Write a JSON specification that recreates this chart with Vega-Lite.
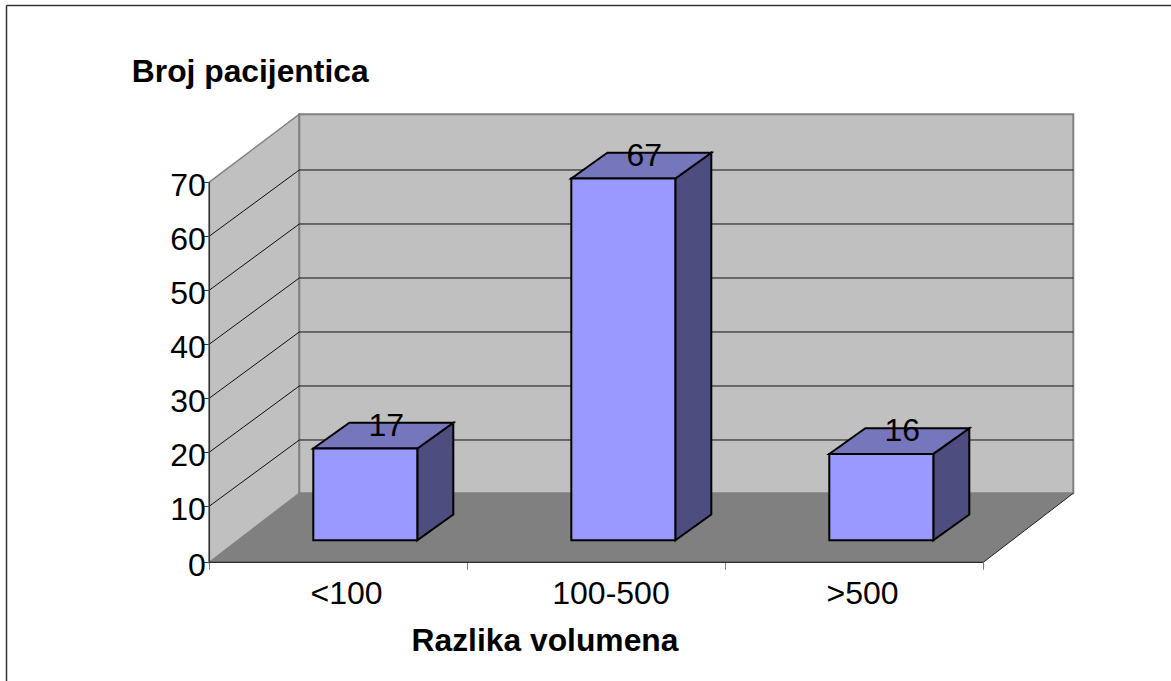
{"$schema":"https://vega.github.io/schema/vega-lite/v6.json","width":1171,"height":681,"autosize":"none","padding":0,"background":"white","view":{"stroke":null},
"config":{"font":"Liberation Sans"},
"datasets":{"bars":[{"cat":"<100","idx":0,"value":17},{"cat":"100-500","idx":1,"value":67},{"cat":">500","idx":2,"value":16}],
"depth":[{"k":0},{"k":1}],
"ticks":[{"tick":10},{"tick":20},{"tick":30},{"tick":40},{"tick":50},{"tick":60}],
"one":[{"n":1}]},
"resolve":{"axis":{"x":"independent","y":"independent"}},
"layer":[
{"data":{"name":"depth"},"transform":[{"calculate":"datum.k*0.3488","as":"x"},{"calculate":"-0.39+datum.k*12.79","as":"y0"},{"calculate":"70+datum.k*12.6","as":"y1"}],
"mark":{"type":"area","fill":"#C0C0C0","stroke":"#808080","strokeWidth":1.5},
"encoding":{"x":{"field":"x","type":"quantitative","scale":{"domain":[-0.81124,3.7275],"nice":false,"zero":false},"axis":null},"y":{"field":"y1","type":"quantitative","scale":{"domain":[-22.37,103.74],"nice":false,"zero":false},"axis":null},"y2":{"field":"y0"}}},
{"data":{"name":"one"},"mark":{"type":"rect","fill":"#C0C0C0","stroke":"#808080","strokeWidth":2},
"encoding":{"x":{"datum":0.3488,"type":"quantitative","axis":null},"x2":{"datum":3.3488},"y":{"datum":12.4,"type":"quantitative","axis":null},"y2":{"datum":82.6}}},
{"data":{"name":"depth"},"transform":[{"calculate":"datum.k*0.3488","as":"x0"},{"calculate":"3+datum.k*0.3488","as":"x1"},{"calculate":"-0.39+datum.k*12.79","as":"y"}],
"mark":{"type":"area","orient":"horizontal","fill":"#808080"},
"encoding":{"y":{"field":"y","type":"quantitative","axis":null},"x":{"field":"x0","type":"quantitative","axis":null},"x2":{"field":"x1"}}},
{"data":{"name":"ticks"},"transform":[{"calculate":"datum.tick+12.26","as":"yb"}],"mark":{"type":"rule","color":"#111111","strokeWidth":1},
"encoding":{"x":{"datum":0.3488,"type":"quantitative","axis":null},"x2":{"datum":3.3488},"y":{"field":"yb","type":"quantitative","axis":null}}},
{"data":{"name":"ticks"},"transform":[{"calculate":"datum.tick+12.26","as":"yb"}],"mark":{"type":"rule","color":"#111111","strokeWidth":1},
"encoding":{"x":{"datum":0,"type":"quantitative","axis":null},"x2":{"datum":0.3488},"y":{"field":"tick","type":"quantitative","axis":null},"y2":{"field":"yb"}}},
{"data":{"name":"one"},"mark":{"type":"rule","color":"#333333","strokeWidth":1.5},
"encoding":{"x":{"datum":0,"type":"quantitative","axis":null},"y":{"datum":-0.39,"type":"quantitative","axis":null},"y2":{"datum":70}}},
{"data":{"name":"one"},"mark":{"type":"rule","color":"#000000","strokeWidth":1},
"encoding":{"x":{"datum":0,"type":"quantitative","axis":null},"x2":{"datum":3},"y":{"datum":-0.39,"type":"quantitative","axis":null}}},
{"data":{"name":"one"},"mark":{"type":"rule","color":"#222222","strokeWidth":1},
"encoding":{"x":{"datum":3,"type":"quantitative","axis":null},"x2":{"datum":3.3488},"y":{"datum":-0.39,"type":"quantitative","axis":null},"y2":{"datum":12.4}}},
{"data":{"name":"bars"},"transform":[{"calculate":"[0,1]","as":"k"},{"flatten":["k"]},{"calculate":"datum.idx+0.8062+datum.k*0.1395","as":"x"},{"calculate":"3.685+datum.k*4.76","as":"y0"},{"calculate":"datum.value+3.685+datum.k*4.76","as":"y1"}],
"mark":{"type":"area","fill":"#4D4D80","stroke":"#000000","strokeWidth":2},
"encoding":{"detail":{"field":"cat"},"x":{"field":"x","type":"quantitative","axis":null},"y":{"field":"y1","type":"quantitative","axis":null},"y2":{"field":"y0"}}},
{"data":{"name":"bars"},"transform":[{"calculate":"[0,1]","as":"k"},{"flatten":["k"]},{"calculate":"datum.idx+0.4031+datum.k*0.1395","as":"x0"},{"calculate":"datum.idx+0.8062+datum.k*0.1395","as":"x1"},{"calculate":"datum.value+3.685+datum.k*4.76","as":"y"}],
"mark":{"type":"area","orient":"horizontal","fill":"#7676BD","stroke":"#000000","strokeWidth":2},
"encoding":{"detail":{"field":"cat"},"y":{"field":"y","type":"quantitative","axis":null},"x":{"field":"x0","type":"quantitative","axis":null},"x2":{"field":"x1"}}},
{"data":{"name":"bars"},"transform":[{"calculate":"datum.idx+0.4031","as":"x0"},{"calculate":"datum.idx+0.8062","as":"x1"},{"calculate":"datum.value+3.685","as":"y1"}],
"mark":{"type":"rect","fill":"#9999FF","stroke":"#000000","strokeWidth":2},
"encoding":{"x":{"field":"x0","type":"quantitative","axis":null},"x2":{"field":"x1"},"y":{"field":"y1","type":"quantitative","axis":null},"y2":{"datum":3.685}}},
{"data":{"name":"bars"},"transform":[{"calculate":"datum.idx+0.674","as":"x"},{"calculate":"datum.value+6.065","as":"y"}],
"mark":{"type":"text","fontSize":32,"align":"center","baseline":"alphabetic","dx":3,"color":"#000000"},
"encoding":{"x":{"field":"x","type":"quantitative","axis":null},"y":{"field":"y","type":"quantitative","axis":null},"text":{"field":"value","type":"quantitative","format":".0f"}}},
{"data":{"name":"one"},"mark":{"type":"rule","color":"#333333","strokeWidth":1.5},
"encoding":{"x":{"datum":-0.786,"type":"quantitative","axis":null},"y":{"datum":102.72,"type":"quantitative","axis":null},"y2":{"datum":-22.37}}},
{"data":{"name":"one"},"mark":{"type":"rule","color":"#333333","strokeWidth":1.5},
"encoding":{"x":{"datum":-0.786,"type":"quantitative","axis":{"orient":"bottom","offset":-118.7,"values":[0,1,2,3],"labels":false,"domain":false,"grid":false,"tickSize":7,"tickColor":"#808080","tickWidth":1,"title":"Razlika volumena","titleFont":"Liberation Sans","titleFontWeight":"bold","titleFontSize":31.8,"titleColor":"#000000","titleX":544.5,"titleY":88,"titleAlign":"center","titleBaseline":"alphabetic"}},"x2":{"datum":3.7275},"y":{"datum":102.72,"type":"quantitative","axis":{"orient":"left","offset":-209.3,"values":[-0.39,10,20,30,40,50,60,70],"labelExpr":"format(round(datum.value/10)*10,'d')","domain":false,"grid":false,"tickSize":6,"tickColor":"#333333","tickWidth":1,"labelFontSize":32,"labelColor":"#000000","labelFont":"Liberation Sans","labelPadding":-2,"labelOffset":3.5,"title":"Broj pacijentica","titleFont":"Liberation Sans","titleFontWeight":"bold","titleFontSize":31.8,"titleColor":"#000000","titleAngle":0,"titleX":-78,"titleY":81,"titleAlign":"left","titleBaseline":"alphabetic"}}}},
{"data":{"name":"one"},"mark":{"type":"rule","opacity":0},
"encoding":{"x":{"datum":0,"type":"quantitative","axis":{"orient":"bottom","offset":-118.7,"values":[0.53,1.555,2.53],"labelExpr":"datum.value<1?'<100':datum.value<2?'100-500':'>500'","domain":false,"grid":false,"ticks":false,"labelFontSize":32,"labelColor":"#000000","labelFont":"Liberation Sans","labelPadding":41,"labelBaseline":"alphabetic","labelAlign":"center","title":null}}}}
]}
